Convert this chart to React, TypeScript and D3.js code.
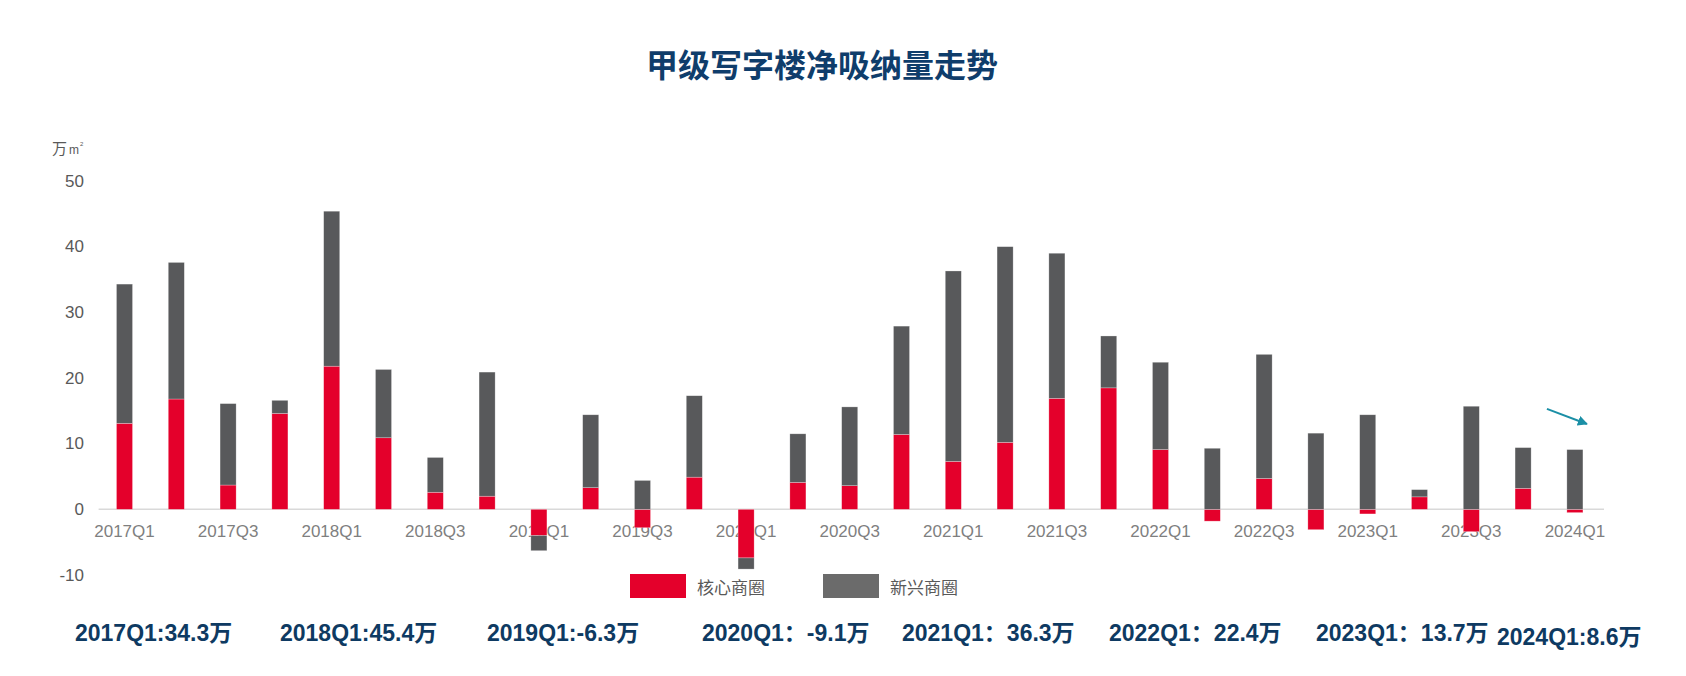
import React from 'react';
import * as d3 from 'd3';

const quarters = [
  '2017Q1', '2017Q2', '2017Q3', '2017Q4',
  '2018Q1', '2018Q2', '2018Q3', '2018Q4',
  '2019Q1', '2019Q2', '2019Q3', '2019Q4',
  '2020Q1', '2020Q2', '2020Q3', '2020Q4',
  '2021Q1', '2021Q2', '2021Q3', '2021Q4',
  '2022Q1', '2022Q2', '2022Q3', '2022Q4',
  '2023Q1', '2023Q2', '2023Q3', '2023Q4',
  '2024Q1'
];

// 核心商圈
const coreValues = [
  13.1, 16.8, 3.7, 14.6,
  21.8, 10.9, 2.6, 2.0,
  -4.0, 3.3, -2.8, 4.9,
  -7.4, 4.1, 3.6, 11.4,
  7.3, 10.2, 16.9, 18.5,
  9.1, -1.8, 4.7, -3.1,
  -0.7, 1.9, -3.4, 3.2,
  -0.5
];

// 新兴商圈
const emergingValues = [
  21.2, 20.8, 12.4, 2.0,
  23.6, 10.4, 5.3, 18.9,
  -2.3, 11.1, 4.4, 12.4,
  -1.7, 7.4, 12.0, 16.5,
  29.0, 29.8, 22.1, 7.9,
  13.3, 9.3, 18.9, 11.6,
  14.4, 1.1, 15.7, 6.2,
  9.1
];

const xTickLabels = [
  '2017Q1', '2017Q3', '2018Q1', '2018Q3', '2019Q1', '2019Q3', '2020Q1', '2020Q3',
  '2021Q1', '2021Q3', '2022Q1', '2022Q3', '2023Q1', '2023Q3', '2024Q1'
];
const yTicks = [-10, 0, 10, 20, 30, 40, 50];

const seriesNames = ['核心商圈', '新兴商圈'];
const seriesColors = ['#e4002b', '#58595b'];
const legendColors = ['#e4002b', '#6b6b6b'];

const noteLabels = [
  '2017Q1:34.3万', '2018Q1:45.4万', '2019Q1:-6.3万', '2020Q1：-9.1万',
  '2021Q1：36.3万', '2022Q1：22.4万', '2023Q1：13.7万', '2024Q1:8.6万'
];

// 注释文字的横向位置（版面）
const noteX = [75, 280, 487, 702, 902, 1109, 1316, 1497];

const W = 1686;
const H = 676;
const latin = '"Liberation Sans", Arial, "Noto Sans CJK SC", sans-serif';
const cjk = '"Noto Sans CJK SC", "Liberation Sans", sans-serif';

const App = () => {
  const rows = quarters.map((q, i) => ({ q, core: coreValues[i], emerging: emergingValues[i] }));

  const x = d3.scaleBand<string>()
    .domain(quarters)
    .range([98.6, 1600.8])
    .paddingInner(0.69)
    .paddingOuter(0.345);

  const y = d3.scaleLinear().domain([-10, 50]).range([575, 181]);

  const stack = d3.stack<any>()
    .keys(['core', 'emerging'])
    .offset(d3.stackOffsetDiverging);
  const layers = stack(rows);

  const bw = x.bandwidth();
  const lastX = (x('2024Q1') as number) + bw;
  const arrowTip = { x: lastX + 4, y: y(13) };
  const arrowTail = { x: lastX - 36, y: y(15.3) };

  return (
    <svg width={W} height={H} style={{ position: 'absolute', left: 0, top: 0, background: '#fff' }}>
      <defs>
        <marker id="arrowHead" viewBox="0 0 10 10" refX="9" refY="5"
          markerWidth="5" markerHeight="5" orient="auto">
          <path d="M0,0 L10,5 L0,10 z" fill="#1b8fa6" />
        </marker>
      </defs>

      <text x={822} y={63} textAnchor="middle" dominantBaseline="central"
        fontFamily={cjk} fontWeight={700} fontSize={32} fill="#0f3d6b">
        甲级写字楼净吸纳量走势
      </text>

      {/* 单位 */}
      <text x={52} y={154} fontFamily={cjk} fontSize={15} fill="#595959">万</text>
      <text x={69} y={154} fontFamily={latin} fontSize={12} fill="#595959">m</text>
      <text x={80} y={146} fontFamily={latin} fontSize={6} fill="#595959">2</text>

      {/* y 轴刻度 */}
      {yTicks.map(t => (
        <text key={t} x={84} y={y(t)} textAnchor="end" dominantBaseline="central"
          fontFamily={latin} fontSize={17} fill="#595959">{t}</text>
      ))}

      {/* x 轴刻度 */}
      {xTickLabels.map(q => (
        <text key={q} x={(x(q) as number) + bw / 2} y={531} textAnchor="middle" dominantBaseline="central"
          fontFamily={latin} fontSize={17} fill="#7f7f7f">{q}</text>
      ))}

      <line x1={98.6} x2={1604} y1={y(0)} y2={y(0)} stroke="#d9d9d9" strokeWidth={1.5} />

      {layers.map((layer, li) => (
        <g key={layer.key} fill={seriesColors[li]}>
          {layer.map((d, i) => {
            const top = y(Math.max(d[0], d[1]));
            const bottom = y(Math.min(d[0], d[1]));
            return (
              <rect key={i} x={x(quarters[i])} y={top} width={bw} height={Math.max(0, bottom - top)}
                stroke="#ffffff" strokeOpacity={0.45} strokeWidth={0.6} />
            );
          })}
        </g>
      ))}

      {/* 图例 */}
      {seriesNames.map((name, i) => {
        const lx = i === 0 ? 630 : 823;
        return (
          <g key={name}>
            <rect x={lx} y={574} width={56} height={24} fill={legendColors[i]} />
            <text x={lx + 67} y={586} dominantBaseline="central" fontFamily={cjk} fontSize={17} fill="#595959">{name}</text>
          </g>
        );
      })}

      <line x1={arrowTail.x} y1={arrowTail.y} x2={arrowTip.x} y2={arrowTip.y}
        stroke="#1b8fa6" strokeWidth={2} markerEnd="url(#arrowHead)" />

      {/* 注释 */}
      {noteLabels.map((t, i) => (
        <text key={t} x={noteX[i]} y={i === noteLabels.length - 1 ? 637 : 633} dominantBaseline="central"
          fontFamily={latin} fontWeight={700} fontSize={23} fill="#0e3a62">{t}</text>
      ))}
    </svg>
  );
};

export default App;
